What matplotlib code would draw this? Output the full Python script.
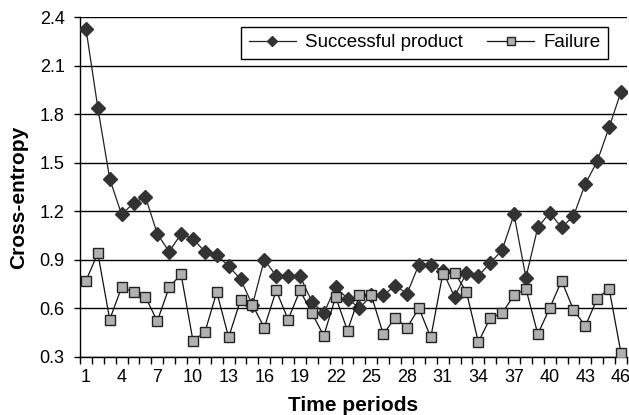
import matplotlib
matplotlib.use("Agg")
import matplotlib.pyplot as plt
import numpy as np

plt.rcParams['font.family'] = ['Liberation Sans', 'DejaVu Sans']

periods = list(range(1, 47))
successful = [2.33, 1.84, 1.40, 1.18, 1.25, 1.29, 1.06, 0.95, 1.06, 1.03,
              0.95, 0.93, 0.86, 0.78, 0.62, 0.90, 0.80, 0.80, 0.80, 0.64,
              0.57, 0.73, 0.66, 0.60, 0.68, 0.68, 0.74, 0.69, 0.87, 0.87,
              0.83, 0.67, 0.82, 0.80, 0.88, 0.96, 1.18, 0.79, 1.10, 1.19,
              1.10, 1.17, 1.37, 1.51, 1.72, 1.94]
failure = [0.77, 0.94, 0.53, 0.73, 0.70, 0.67, 0.52, 0.73, 0.81, 0.40,
           0.45, 0.70, 0.42, 0.65, 0.62, 0.48, 0.71, 0.53, 0.71, 0.57,
           0.43, 0.67, 0.46, 0.68, 0.68, 0.44, 0.54, 0.48, 0.60, 0.42,
           0.81, 0.82, 0.70, 0.39, 0.54, 0.57, 0.68, 0.72, 0.44, 0.60,
           0.77, 0.59, 0.49, 0.66, 0.72, 0.32]
y_ticks = [0.3, 0.6, 0.9, 1.2, 1.5, 1.8, 2.1, 2.4]
x_label_ticks = list(range(1, 47, 3))

fig = plt.figure(figsize=(6.29, 4.15), dpi=100)
ax = fig.add_axes([80/629, 1-356.7/415, 547/629, (356.7-17.3)/415])

for y in y_ticks:
    ax.axhline(y, color='black', lw=1.0, zorder=1)

ax.plot(periods, successful, color='#222222', lw=0.9, marker='D',
        markersize=7, markerfacecolor='#333333', markeredgecolor='#333333',
        label='Successful product', zorder=3)
ax.plot(periods, failure, color='#111111', lw=0.9, marker='s',
        markersize=7, markerfacecolor='#b0b0b0', markeredgecolor='#222222',
        markeredgewidth=1.0, label='Failure', zorder=4)

ax.set_xlim(0.5, 46.5)
ax.set_ylim(0.3, 2.4)
ax.set_yticks(y_ticks)
ax.set_yticklabels([f"{v:.1f}" for v in y_ticks])
ax.set_xticks(x_label_ticks)
ax.set_xticklabels([str(v) for v in x_label_ticks])
ax.set_xticks(np.arange(0.5, 47, 1.0), minor=True)
ax.tick_params(axis='x', which='major', length=0, labelsize=13, pad=8.5)
ax.tick_params(axis='x', which='minor', length=5, width=1, direction='out')
ax.tick_params(axis='y', which='major', length=4, width=1, direction='out',
               labelsize=13, pad=7)

for s in ['top', 'right']:
    ax.spines[s].set_visible(False)
for s in ['left', 'bottom']:
    ax.spines[s].set_linewidth(1.0)
    ax.spines[s].set_color('black')

ax.set_xlabel('Time periods', fontsize=15, fontweight='bold')
ax.set_ylabel('Cross-entropy', fontsize=15, fontweight='bold')
ax.xaxis.set_label_coords(0.5, -0.117)
ax.yaxis.set_label_coords(-0.095, 0.47)

leg = ax.legend(loc='upper right', bbox_to_anchor=(608/629, 1-26.7/415),
                bbox_transform=fig.transFigure, ncol=2, fontsize=13.5,
                frameon=True, fancybox=False, edgecolor='black',
                framealpha=1, handlelength=2.5, columnspacing=1.3,
                borderpad=0.4, handletextpad=0.5, borderaxespad=0,
                markerscale=0.75)
leg.get_frame().set_linewidth(1.0)

fig.savefig('out.png', dpi=100)
